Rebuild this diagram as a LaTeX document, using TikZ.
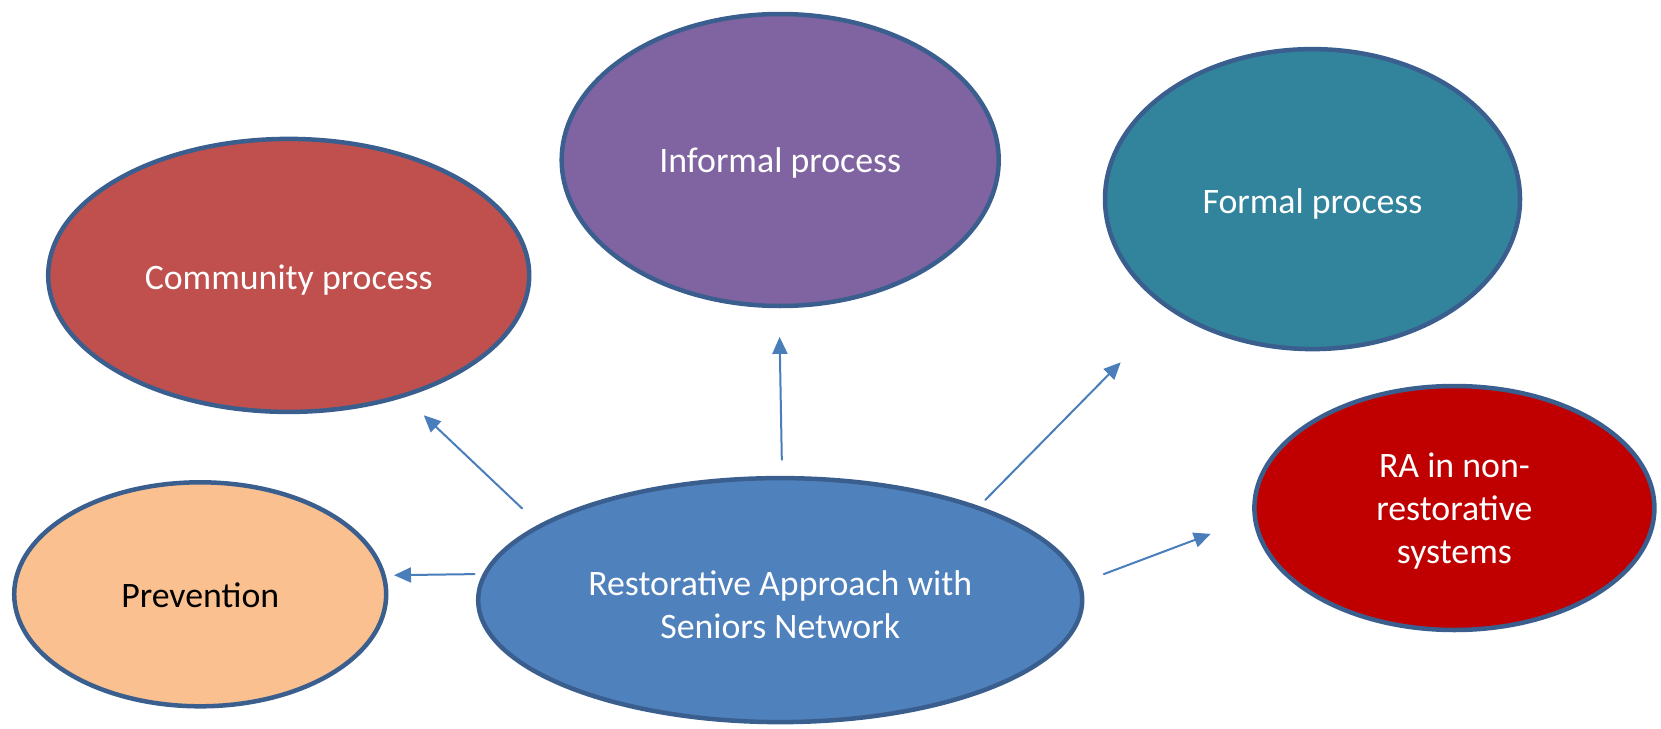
\documentclass[tikz,border=0pt]{standalone}
\usepackage{fontspec}
\setmainfont{Carlito}
\usetikzlibrary{shapes.geometric,arrows.meta}
\definecolor{rimblue}{HTML}{3A5F8F}
\definecolor{arrowblue}{HTML}{4A7EBB}
\definecolor{commred}{HTML}{C0504D}
\definecolor{infpurple}{HTML}{8064A2}
\definecolor{formteal}{HTML}{31849B}
\definecolor{nonred}{HTML}{C00000}
\definecolor{prevpeach}{HTML}{FAC090}
\definecolor{rablue}{HTML}{4F81BD}
\begin{document}
\begin{tikzpicture}[x=1pt,y=-1pt,line cap=round,line join=round,
		blob/.style={ellipse,draw=rimblue,line width=4.5pt,inner sep=0pt},
		words/.style={text=white,align=center,yshift=-4.5pt,
			font=\fontsize{35.8}{43.4}\selectfont},
		link/.style={draw=arrowblue,line width=2pt,-{Triangle[length=17pt,width=15pt]}}]
		\useasboundingbox (0,0) rectangle (1661,728);
		\node[blob,fill=commred,minimum width=481pt,minimum height=273pt,
			label={[words]center:Community process}] (comm) at (288.7,275.4) {};
		\node[blob,fill=infpurple,minimum width=437pt,minimum height=292pt,
			label={[words,yshift=1.5pt]center:Informal process}] (inf) at (780.2,160) {};
		\node[blob,fill=formteal,minimum width=415pt,minimum height=300pt,
			label={[words]center:Formal process}] (form) at (1312.5,199.1) {};
		\node[blob,fill=nonred,minimum width=400pt,minimum height=244pt,
			label={[words,yshift=1.5pt]center:RA in non-\\restorative\\systems}] (nonra) at (1454.4,508) {};
		\node[blob,fill=prevpeach,minimum width=372pt,minimum height=224pt,
			label={[words,text=black,yshift=3.5pt]center:Prevention}] (prev) at (200.2,594.3) {};
		\node[blob,fill=rablue,minimum width=604pt,minimum height=244pt,
			label={[words]center:Restorative Approach with\\Seniors Network}] (ra) at (780.2,600.1) {};
		% arrow ends
		\coordinate (s1) at (522.2,508.5); \coordinate (e1) at (423.7,415.2);
		\coordinate (s2) at (781.8,459.7); \coordinate (e2) at (779.6,336.9);
		\coordinate (s3) at (985.2,500);   \coordinate (e3) at (1120.7,362.3);
		\coordinate (s4) at (1103.8,574.1); \coordinate (e4) at (1210.8,533.9);
		\coordinate (s5) at (474.6,574.1); \coordinate (e5) at (394,575.2);
		\draw[link] (s1) -- (e1);
		\draw[link] (s2) -- (e2);
		\draw[link] (s3) -- (e3);
		\draw[link] (s4) -- (e4);
		\draw[link] (s5) -- (e5);
	\end{tikzpicture}
\end{document}
